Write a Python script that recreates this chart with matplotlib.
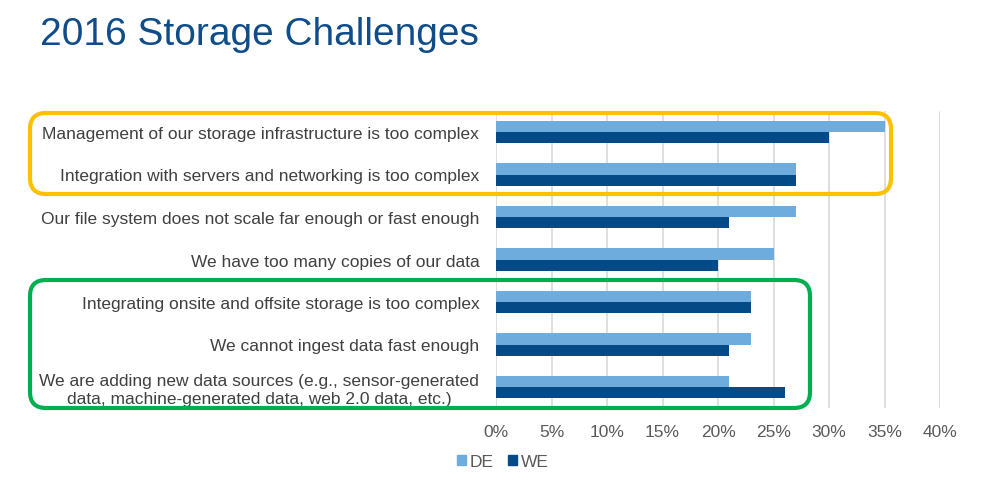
import matplotlib
matplotlib.use("Agg")
import matplotlib.pyplot as plt
from matplotlib.patches import FancyBboxPatch, Patch
import numpy as np

plt.rcParams['font.family'] = ['Liberation Sans', 'DejaVu Sans']

categories = [
    "Management of our storage infrastructure is too complex",
    "Integration with servers and networking is too complex",
    "Our file system does not scale far enough or fast enough",
    "We have too many copies of our data",
    "Integrating onsite and offsite storage is too complex",
    "We cannot ingest data fast enough",
    "We are adding new data sources (e.g., sensor-generated\ndata, machine-generated data, web 2.0 data, etc.)",
]
de_values = [35, 27, 27, 25, 23, 23, 21]
we_values = [30, 27, 21, 20, 23, 21, 26]
x_ticks = [0, 5, 10, 15, 20, 25, 30, 35, 40]
x_tick_labels = ["0%", "5%", "10%", "15%", "20%", "25%", "30%", "35%", "40%"]
series_names = ["DE", "WE"]

c_de = "#6FACDE"
c_we = "#044A87"
title_color = "#0F4C8A"
text_color = "#404040"

W, H = 981, 489
fig = plt.figure(figsize=(W / 100, H / 100), dpi=100)
left, right = 496 / W, 940 / W
top, bottom = 1 - 111.75 / H, 1 - 409.25 / H
ax = fig.add_axes([left, bottom, right - left, top - bottom])

y = np.arange(len(categories))
bh = 0.26
ax.barh(y - bh / 2, de_values, height=bh, color=c_de, zorder=3)
ax.barh(y + bh / 2, we_values, height=bh, color=c_we, zorder=3)

ax.set_ylim(len(categories) - 0.5, -0.5)
ax.set_xlim(0, 40)
ax.set_xticks(x_ticks)
ax.set_xticklabels(x_tick_labels)
ax.set_yticks(y)
ax.set_yticklabels(categories, multialignment='center', linespacing=1.25)
ax.tick_params(axis='x', length=0, pad=11, labelsize=12.5, labelcolor="#595959")
ax.tick_params(axis='y', length=0, pad=12, labelsize=12.5, labelcolor=text_color)
ax.xaxis.grid(True, color="#D9D9D9", linewidth=1.2, zorder=0)
ax.set_axisbelow(True)
for s in ax.spines.values():
    s.set_visible(False)

# Title
fig.text(40 / W, 1 - 45 / H, "2016 Storage Challenges", fontsize=28,
         color=title_color, ha='left', va='baseline')

# Legend
handles = [Patch(color=c_de, label=series_names[0]),
           Patch(color=c_we, label=series_names[1])]
fig.legend(handles=handles, loc='center', bbox_to_anchor=(503 / W, 1 - 463 / H),
           ncol=2, frameon=False, fontsize=12.5, handlelength=0.5, handleheight=0.5,
           handletextpad=0.25, columnspacing=0.8, labelcolor="#595959")

# Highlight boxes (pixel coords -> inches)
def box(x0, y0, x1, y1, color):
    p = FancyBboxPatch((x0 / 100, (H - y1) / 100), (x1 - x0) / 100, (y1 - y0) / 100,
                       boxstyle="round,pad=0,rounding_size=0.16",
                       transform=fig.dpi_scale_trans, fill=False,
                       edgecolor=color, linewidth=3, zorder=10)
    fig.add_artist(p)

box(30, 114, 891, 195, "#FFC000")
box(30, 281, 810, 409, "#00B050")

fig.savefig("out.png", dpi=100)
